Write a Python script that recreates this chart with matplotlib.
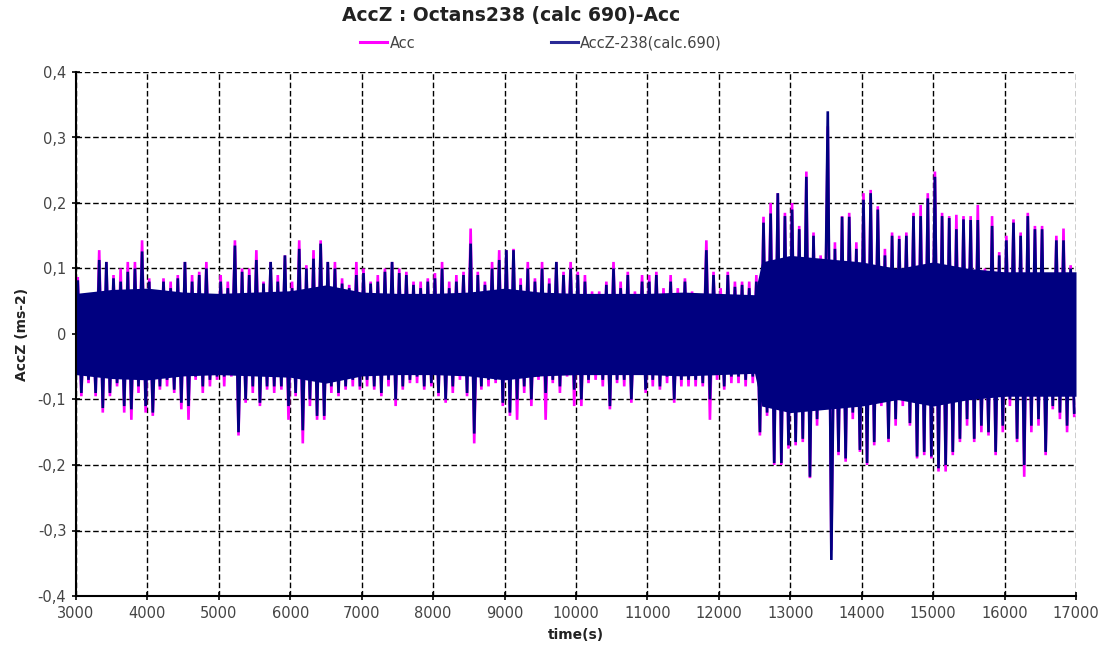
import matplotlib

matplotlib.use("Agg")
import matplotlib.pyplot as plt  # noqa: E402
from matplotlib.lines import Line2D  # noqa: E402
import numpy as np  # noqa: E402

# --- values -----------------------------------------------------------------

# one envelope value per 100 s bin, 3000 s .. 17000 s (140 bins)
BIN_START = 3000
BIN_WIDTH = 100

BLUE_HI = [
    0.08, 0.055, 0.055, 0.113, 0.11, 0.085, 0.08, 0.095, 0.1, 0.126,
    0.08, 0.05, 0.08, 0.07, 0.085, 0.11, 0.08, 0.09, 0.1, 0.05,
    0.08, 0.07, 0.135, 0.095, 0.09, 0.113, 0.077, 0.11, 0.08, 0.12,
    0.07, 0.13, 0.1, 0.115, 0.138, 0.11, 0.1, 0.077, 0.07, 0.09,
    0.093, 0.077, 0.08, 0.095, 0.11, 0.093, 0.09, 0.075, 0.07, 0.08,
    0.085, 0.1, 0.07, 0.08, 0.09, 0.138, 0.09, 0.075, 0.1, 0.113,
    0.128, 0.128, 0.075, 0.1, 0.08, 0.1, 0.077, 0.11, 0.09, 0.1,
    0.09, 0.08, 0.055, 0.055, 0.075, 0.1, 0.07, 0.09, 0.055, 0.08,
    0.08, 0.09, 0.06, 0.08, 0.06, 0.08, 0.055, 0.05, 0.128, 0.09,
    0.06, 0.09, 0.072, 0.075, 0.07, 0.08, 0.17, 0.184, 0.215, 0.18,
    0.19, 0.16, 0.24, 0.15, 0.11, 0.34, 0.13, 0.179, 0.179, 0.13,
    0.205, 0.215, 0.19, 0.12, 0.15, 0.145, 0.15, 0.18, 0.18, 0.207,
    0.24, 0.18, 0.177, 0.16, 0.175, 0.174, 0.174, 0.09, 0.165, 0.12,
    0.143, 0.17, 0.15, 0.18, 0.16, 0.16, 0.085, 0.143, 0.143, 0.1,
]
BLUE_LO = [
    -0.09, -0.07, -0.09, -0.113, -0.09, -0.075, -0.11, -0.115, -0.08, -0.11,
    -0.12, -0.08, -0.07, -0.085, -0.105, -0.11, -0.065, -0.08, -0.07, -0.065,
    -0.065, -0.06, -0.15, -0.1, -0.08, -0.105, -0.08, -0.08, -0.08, -0.11,
    -0.09, -0.147, -0.1, -0.125, -0.125, -0.08, -0.09, -0.08, -0.07, -0.08,
    -0.07, -0.08, -0.09, -0.07, -0.1, -0.08, -0.07, -0.065, -0.08, -0.075,
    -0.09, -0.1, -0.08, -0.06, -0.09, -0.152, -0.08, -0.07, -0.07, -0.105,
    -0.12, -0.1, -0.08, -0.1, -0.065, -0.09, -0.07, -0.08, -0.06, -0.085,
    -0.1, -0.07, -0.06, -0.07, -0.11, -0.07, -0.07, -0.1, -0.05, -0.085,
    -0.07, -0.08, -0.065, -0.1, -0.07, -0.07, -0.07, -0.075, -0.1, -0.06,
    -0.08, -0.065, -0.065, -0.07, -0.065, -0.15, -0.12, -0.197, -0.197, -0.17,
    -0.165, -0.16, -0.218, -0.13, -0.1, -0.345, -0.18, -0.19, -0.12, -0.177,
    -0.197, -0.165, -0.1, -0.16, -0.13, -0.1, -0.136, -0.187, -0.18, -0.187,
    -0.205, -0.2, -0.18, -0.16, -0.13, -0.16, -0.14, -0.15, -0.18, -0.14,
    -0.1, -0.16, -0.2, -0.14, -0.13, -0.18, -0.11, -0.12, -0.14, -0.12,
]
MAG_HI = [
    0.085, 0.06, 0.06, 0.128, 0.11, 0.09, 0.1, 0.11, 0.11, 0.143,
    0.085, 0.06, 0.085, 0.08, 0.09, 0.11, 0.09, 0.095, 0.11, 0.06,
    0.09, 0.08, 0.143, 0.1, 0.1, 0.128, 0.08, 0.11, 0.09, 0.12,
    0.08, 0.143, 0.105, 0.128, 0.143, 0.11, 0.11, 0.085, 0.075, 0.11,
    0.1, 0.08, 0.09, 0.1, 0.11, 0.1, 0.095, 0.08, 0.08, 0.085,
    0.093, 0.11, 0.08, 0.09, 0.095, 0.161, 0.095, 0.08, 0.11, 0.128,
    0.128, 0.13, 0.085, 0.11, 0.085, 0.11, 0.085, 0.11, 0.095, 0.11,
    0.095, 0.09, 0.065, 0.065, 0.08, 0.11, 0.08, 0.095, 0.065, 0.09,
    0.09, 0.095, 0.07, 0.09, 0.07, 0.085, 0.065, 0.06, 0.143, 0.095,
    0.07, 0.095, 0.08, 0.08, 0.08, 0.09, 0.179, 0.2, 0.215, 0.185,
    0.2, 0.165, 0.248, 0.155, 0.12, 0.317, 0.14, 0.18, 0.185, 0.14,
    0.215, 0.22, 0.195, 0.13, 0.155, 0.15, 0.155, 0.185, 0.197, 0.215,
    0.248, 0.185, 0.18, 0.182, 0.18, 0.18, 0.197, 0.1, 0.18, 0.125,
    0.15, 0.175, 0.155, 0.185, 0.165, 0.165, 0.09, 0.15, 0.161, 0.105,
]
MAG_LO = [
    -0.095, -0.075, -0.095, -0.12, -0.095, -0.08, -0.12, -0.131, -0.09, -0.12,
    -0.125, -0.085, -0.08, -0.09, -0.115, -0.131, -0.07, -0.09, -0.08, -0.07,
    -0.08, -0.065, -0.155, -0.105, -0.09, -0.11, -0.085, -0.09, -0.085, -0.131,
    -0.095, -0.167, -0.11, -0.131, -0.131, -0.09, -0.095, -0.085, -0.08, -0.085,
    -0.08, -0.085, -0.095, -0.08, -0.11, -0.085, -0.075, -0.075, -0.085, -0.08,
    -0.095, -0.105, -0.09, -0.07, -0.095, -0.167, -0.085, -0.08, -0.075, -0.11,
    -0.125, -0.131, -0.09, -0.11, -0.07, -0.131, -0.075, -0.09, -0.065, -0.11,
    -0.11, -0.075, -0.07, -0.08, -0.115, -0.075, -0.08, -0.105, -0.06, -0.09,
    -0.08, -0.085, -0.075, -0.105, -0.08, -0.08, -0.08, -0.08, -0.131, -0.07,
    -0.085, -0.075, -0.075, -0.08, -0.075, -0.155, -0.125, -0.2, -0.2, -0.175,
    -0.17, -0.165, -0.22, -0.14, -0.11, -0.33, -0.185, -0.195, -0.13, -0.18,
    -0.2, -0.17, -0.11, -0.165, -0.14, -0.11, -0.14, -0.19, -0.185, -0.19,
    -0.21, -0.21, -0.185, -0.165, -0.14, -0.165, -0.15, -0.155, -0.185, -0.15,
    -0.11, -0.165, -0.218, -0.15, -0.14, -0.185, -0.115, -0.13, -0.15, -0.125,
]

# half-width of the solid dense band around zero
CORE_T = [3000, 3500, 4000, 4500, 5000, 5500, 6000, 6500, 7000, 7500,
          8000, 8500, 9000, 9500, 10000, 10500, 11000, 11500, 12000, 12500,
          12600, 13000, 13500, 14000, 14500, 15000, 15500, 16000, 16500, 17000]
CORE_HALF = [0.062, 0.068, 0.07, 0.064, 0.062, 0.064, 0.066, 0.075, 0.064, 0.062,
             0.062, 0.064, 0.07, 0.064, 0.062, 0.062, 0.062, 0.064, 0.062, 0.06,
             0.11, 0.12, 0.115, 0.11, 0.1, 0.11, 0.1, 0.095, 0.095, 0.095]

X_TICKS = list(range(3000, 17001, 1000))
Y_TICKS = [-0.4, -0.3, -0.2, -0.1, 0.0, 0.1, 0.2, 0.3, 0.4]
Y_TICK_LABELS = ["-0,4", "-0,3", "-0,2", "-0,1", "0", "0,1", "0,2", "0,3", "0,4"]

NAVY = "#000080"
MAGENTA = "#ff00ff"


def zigzag(hi, lo):
    # one up-spike and one down-spike per bin
    t, y = [], []
    for i, (h, l) in enumerate(zip(hi, lo)):
        start = BIN_START + i * BIN_WIDTH
        t += [start + BIN_WIDTH * 0.25, start + BIN_WIDTH * 0.75]
        y += [h, l]
    return t, y


fig = plt.figure(figsize=(11.04, 6.57), dpi=100)
ax = fig.add_axes([76 / 1104, 1 - 596 / 657, 1000 / 1104, 524 / 657])

mt, my = zigzag(MAG_HI, MAG_LO)
ax.plot(mt, my, color=MAGENTA, linewidth=1.9, solid_joinstyle="bevel",
        zorder=2)
core = np.array(CORE_HALF)
ax.fill_between(CORE_T, -core, core, color=NAVY, linewidth=0, zorder=3)
bt, by = zigzag(BLUE_HI, BLUE_LO)
ax.plot(bt, by, color=NAVY, linewidth=1.9, solid_joinstyle="bevel", zorder=4)

ax.set_xlim(3000, 17000)
ax.set_ylim(-0.4, 0.4)
ax.set_xticks(X_TICKS)
ax.set_yticks(Y_TICKS)
ax.set_yticklabels(Y_TICK_LABELS)
ax.tick_params(direction="inout", length=6, width=1.2, labelsize=10.5,
               labelcolor="#444444", pad=4)
ax.grid(True, color="black", linestyle=(0, (4, 2)), linewidth=1.0)
ax.set_axisbelow(True)
for side in ("top", "right"):
    ax.spines[side].set_visible(False)
for side in ("left", "bottom"):
    ax.spines[side].set_linewidth(1.5)
    ax.spines[side].set_zorder(5)

ax.set_xlabel("time(s)", fontsize=10, fontweight="bold", labelpad=5,
              color="#222222")
ax.set_ylabel("AccZ (ms-2)", fontsize=10, fontweight="bold", labelpad=6,
              color="#222222")

fig.text(511 / 1104, 1 - 16 / 657, "AccZ : Octans238 (calc 690)-Acc",
         ha="center", va="center", fontsize=13.5, fontweight="bold",
         color="#222222")
handles = [Line2D([], [], color=MAGENTA, linewidth=2.2),
           Line2D([], [], color="#2a2a96", linewidth=2.2)]
fig.legend(handles, ["Acc", "AccZ-238(calc.690)"], loc="center",
           bbox_to_anchor=(541 / 1104, 1 - 43 / 657), ncol=2, frameon=False,
           fontsize=10.5, handlelength=1.85, handletextpad=0.15,
           columnspacing=9.3, labelcolor="#444444")

fig.savefig("out.png", dpi=100)
